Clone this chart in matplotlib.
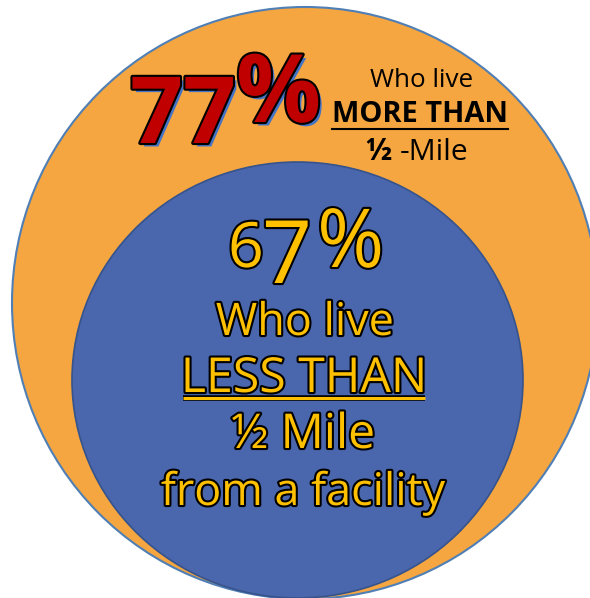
import matplotlib
matplotlib.use('Agg')
import matplotlib.pyplot as plt
import matplotlib.patches as mpatches
import matplotlib.patheffects as pe

# data
pct_more = 77
pct_less = 67
more_lines = ['Who live', 'MORE THAN', '½', '-Mile']
less_lines = ['Who live', 'LESS THAN', '½ Mile', 'from a facility']

orange = '#F5A640'
blue = '#4A66AC'
yellow = '#FFC000'
red = '#C00000'

plt.rcParams['font.family'] = ['Open Sans', 'DejaVu Sans']

fig = plt.figure(figsize=(5.9, 5.98), dpi=100)
ax = fig.add_axes([0, 0, 1, 1])
ax.set_xlim(0, 590)
ax.set_ylim(598, 0)
ax.axis('off')
renderer = fig.canvas.get_renderer()


def fit(x0, x1, y, s, ha='center', **kw):
    # scale the font so the text spans x0..x1 pixels
    x = {'center': (x0 + x1) / 2, 'left': x0, 'right': x1}[ha]
    t = ax.text(x, y, s, fontsize=20, ha=ha, va='baseline', **kw)
    w = t.get_window_extent(renderer).width
    t.set_fontsize(20 * (x1 - x0) / w)
    return t


# circles (pixel units)
outer = mpatches.Ellipse((305, 303), 586, 592, facecolor=orange, edgecolor='#4F7FB5', lw=1.5)
inner = mpatches.Ellipse((297.5, 380), 451, 436, facecolor=blue, edgecolor='#36538C', lw=1.2)
ax.add_patch(outer)
ax.add_patch(inner)

#<--------------77% block----------------->
red_fx = [pe.SimplePatchShadow(offset=(2.5, -2.5), shadow_rgbFace='#4472C4', alpha=1),
          pe.Stroke(linewidth=3, foreground='black'), pe.Normal()]
fit(130, 236, 143, str(pct_more), ha='left', fontweight='bold', color=red, path_effects=red_fx)
fit(236, 321, 122, '%', ha='left', fontweight='bold', color=red, path_effects=red_fx)

fit(370, 473, 87, more_lines[0], color='black')
fit(332, 508, 122, more_lines[1], fontweight='bold', color='black')
ax.plot([332, 508], [129, 129], color='black', lw=1.5)
mile = fit(400, 469, 160, more_lines[3], ha='left', color='black')
ax.text(392, 160, more_lines[2], fontsize=mile.get_fontsize(), fontweight='bold', color='black',
        ha='right', va='baseline')

#<--------------67% block----------------->
yel_fx = [pe.Stroke(linewidth=3, foreground='black'), pe.Normal()]
d1, d2 = str(pct_less)
fit(228, 264, 267, d1, ha='left', color=yellow, path_effects=yel_fx)
fit(262, 312, 283, d2, ha='left', color=yellow, path_effects=yel_fx)
fit(317, 384, 267, '%', ha='left', color=yellow, path_effects=yel_fx)

spans = [(216, 394), (181, 427), (231, 375), (161, 445)]
baselines = [335, 392, 448, 505]
for line, (x0, x1), yb in zip(less_lines, spans, baselines):
    fit(x0, x1, yb, line, color=yellow, path_effects=yel_fx)
ax.plot([183, 425], [397.5, 397.5], color=yellow, lw=2.2, solid_capstyle='butt',
        path_effects=[pe.Stroke(linewidth=4, foreground='black'), pe.Normal()])

plt.savefig('out.png', dpi=100)
